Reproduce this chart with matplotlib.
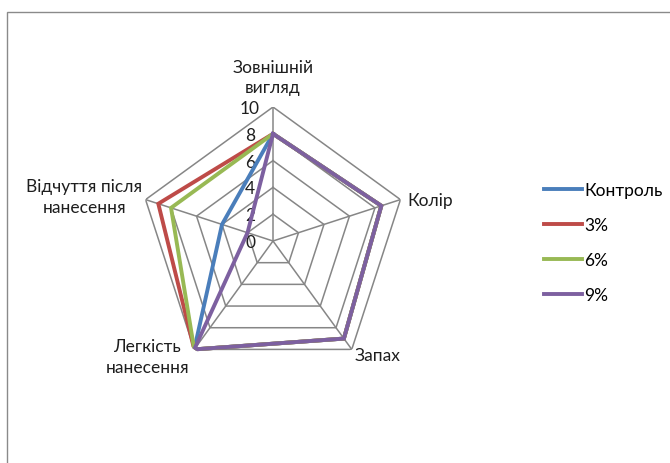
import numpy as np
import matplotlib
matplotlib.use("Agg")
import matplotlib.pyplot as plt
from matplotlib.patches import Rectangle

plt.rcParams['font.family'] = ['Lato', 'DejaVu Sans']

categories = ["Зовнішній\nвигляд", "Колір", "Запах", "Легкість\nнанесення", "Відчуття після\nнанесення"]
series_names = ["Контроль", "3%", "6%", "9%"]
control = [8, 8.5, 9, 10, 4]
pct3 = [8, 8.5, 9, 10, 9]
pct6 = [8, 8.5, 9, 10, 8]
pct9 = [8, 8.5, 9, 10, 2]
r_ticks = [0, 2, 4, 6, 8, 10]

colors = ["#4A7EBB", "#BE4B48", "#98B954", "#7D60A0"]
grid_color = "#868686"
text_color = "#1E1E1E"
fs = 12.5

W, H = 670, 464
fig = plt.figure(figsize=(W / 100, H / 100), dpi=100)

# outer chart frame (only top and left edges fall inside the image)
fig.patches.append(Rectangle((7 / W, -0.1), 1.2, 1 - 13 / H + 0.1,
                             transform=fig.transFigure, fill=False,
                             edgecolor="#8A8A8A", lw=1.0))

cx, cy, R = 273, 242, 134
ax = fig.add_axes([(cx - R) / W, (H - cy - R) / H, 2 * R / W, 2 * R / H], polar=True)
ax.set_theta_offset(np.pi / 2)
ax.set_theta_direction(-1)
ax.set_ylim(0, 10)
ax.grid(False)
ax.set_xticks([])
ax.set_yticks([])
ax.spines['polar'].set_visible(False)
ax.patch.set_alpha(0)

n = len(categories)
theta = np.linspace(0, 2 * np.pi, n, endpoint=False)
theta_closed = np.append(theta, theta[0])

# pentagon grid and spokes
for r in r_ticks[1:]:
    ax.plot(theta_closed, [r] * (n + 1), color=grid_color, lw=1.1, zorder=1)
for t in theta:
    ax.plot([t, t], [0, 10], color=grid_color, lw=1.1, zorder=1)

# radial tick labels
for r in r_ticks:
    ax.annotate(str(r), xy=(0, r), xytext=(-23, -1), textcoords='offset pixels',
                ha='center', va='center', fontsize=fs, color=text_color)

# category labels
label_offsets = [(0, 30, 'center'), (7, 0, 'left'), (26, -6, 'center'),
                 (-47, -7, 'center'), (-61, 3, 'center')]
for t, lab, (dx, dy, ha) in zip(theta, categories, label_offsets):
    ax.annotate(lab, xy=(t, 10), xytext=(dx, dy), textcoords='offset pixels',
                ha=ha, va='center', fontsize=fs, color=text_color,
                linespacing=1.35, zorder=0)

for vals, name, c in zip([control, pct3, pct6, pct9], series_names, colors):
    v = list(vals) + [vals[0]]
    ax.plot(theta_closed, v, color=c, lw=2.8, label=name, zorder=3,
            solid_joinstyle='miter')

fig.legend(loc='upper left', bbox_to_anchor=(544 / W, 1 - 183 / H),
           frameon=False, fontsize=fs, handlelength=2.2, handletextpad=0.12,
           labelspacing=1.09, borderaxespad=0, borderpad=0)

fig.savefig("out.png", dpi=100)
